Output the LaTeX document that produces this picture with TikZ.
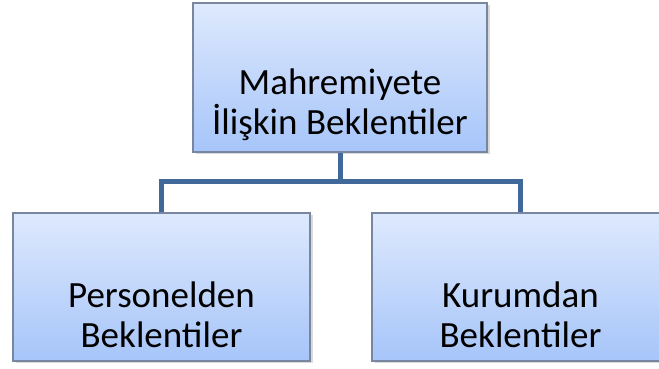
\documentclass[tikz,border=0pt]{standalone}
\usepackage{fontspec}
\setmainfont{Carlito}
\usetikzlibrary{shadows}
\definecolor{boxtop}{RGB}{222,233,253}
\definecolor{boxbottom}{RGB}{166,197,249}
\definecolor{boxedge}{RGB}{120,134,160}
\definecolor{linkblue}{RGB}{65,104,154}
\tikzset{
  orgbox/.style={draw=boxedge, line width=1.3pt, top color=boxtop, bottom color=boxbottom,
    minimum width=#1, minimum height=148pt, inner sep=0pt,
    drop shadow={opacity=0.3, shadow xshift=2.5pt, shadow yshift=-2.5pt}},
  orgbox/.default=297pt,
  orgtext/.style={font=\fontsize{37}{40}\selectfont, align=center, text=black, inner sep=0pt},
  link/.style={draw=linkblue, line width=5pt}
}
\begin{document}
\begin{tikzpicture}[x=1pt,y=1pt]
  \useasboundingbox (0,0) rectangle (659,369);
  \clip (0,0) rectangle (659,369);
  % boxes
  \node[orgbox=294pt, minimum height=149pt] (top) at (340,291.5) {};
  \node[orgbox] (left) at (161.5,82) {};
  \node[orgbox] (right) at (520.5,82) {};
  % connectors
  \coordinate (bus) at (340,187);
  \draw[link] (top.south) -- (bus);
  \draw[link] (left.north) |- (bus) -| (right.north);
  % labels
  \node[orgtext, anchor=center] (toptext) at ([yshift=48pt]top.south) {Mahremiyete\\İlişkin Beklentiler};
  \node[orgtext, anchor=center] (lefttext) at ([yshift=47pt]left.south) {Personelden\\Beklentiler};
  \node[orgtext, anchor=center] (righttext) at ([yshift=47pt]right.south) {Kurumdan\\Beklentiler};
\end{tikzpicture}
\end{document}
